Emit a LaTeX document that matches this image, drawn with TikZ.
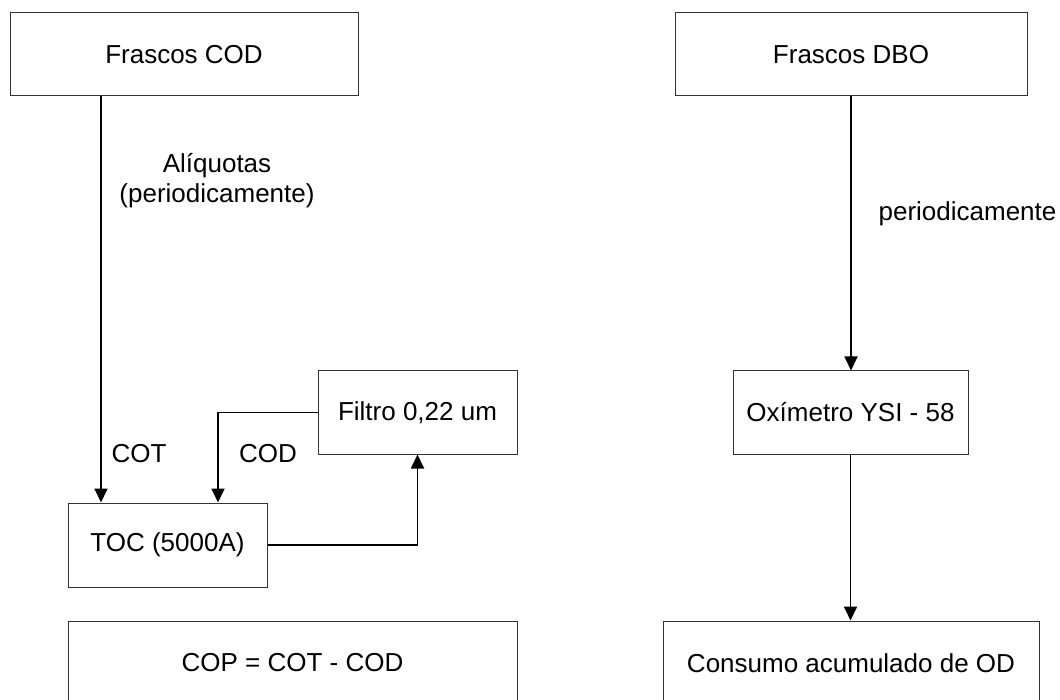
\documentclass[tikz,border=0pt]{standalone}
\usepackage{fontspec}
\setmainfont{Liberation Sans}
\usetikzlibrary{arrows.meta}
\begin{document}
\begin{tikzpicture}[x=1pt,y=-1pt,
  box/.style={draw=black!80, line width=1pt, inner sep=0pt, font=\fontsize{26}{30}\selectfont},
  lbl/.style={inner sep=0pt, font=\fontsize{26}{30}\selectfont, align=center},
  arr/.style={line width=1.8pt, -{Triangle[length=14pt,width=13pt]}}]
\useasboundingbox (0,0) rectangle (1060,700);
% boxes
\node[box, minimum width=348pt, minimum height=83pt] (fcod) at (184,54.5) {Frascos COD};
\node[box, minimum width=352pt, minimum height=83pt] (fdbo) at (851,54.5) {Frascos DBO};
\node[box, minimum width=199pt, minimum height=84pt] (toc) at (167.5,545) {TOC (5000A)};
\node[box, minimum width=199pt, minimum height=83pt] (filt) at (417.5,412.5) {Filtro 0,22 um};
\node[box, minimum width=235pt, minimum height=83pt] (oxi) at (850.5,412.5) {Oxímetro YSI - 58};
\node[box, minimum width=449pt, minimum height=84pt] (cop) at (292.5,663) {COP = COT - COD};
\node[box, minimum width=376pt, minimum height=84pt] (cons) at (851,663) {Consumo acumulado de OD};
% helper coordinates
\coordinate (cx) at (101,0);
\coordinate (dx) at (218,0);
% connectors
\draw[arr] (fcod.south -| cx) -- (toc.north -| cx);
\draw[arr] (filt.west) -| (toc.north -| dx);
\draw[arr] (toc.east) -| (filt.south);
\draw[arr] (fdbo.south) -- (fdbo.south |- oxi.north);
\draw[arr] (oxi.south) -- (oxi.south |- cons.north);
% labels
\node[lbl] (lal) at (217,181) {Alíquotas\\(periodicamente)};
\node[lbl, anchor=base] (lper) at (967.5,221) {periodicamente};
\node[lbl] (lcot) at (139,454) {COT};
\node[lbl] (lcod) at (268,454) {COD};
\end{tikzpicture}
\end{document}
